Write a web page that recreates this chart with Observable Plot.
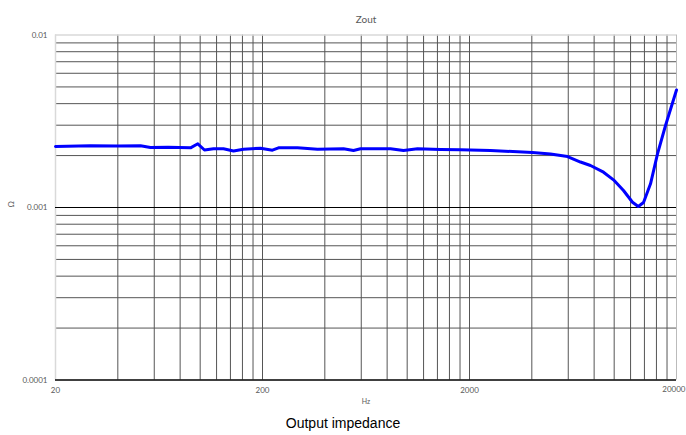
<!DOCTYPE html>
<html><head><meta charset="utf-8">
<script src="https://cdn.jsdelivr.net/npm/d3@7"></script>
<script src="https://cdn.jsdelivr.net/npm/@observablehq/plot@0.6"></script>
<style>
body{margin:0;background:#fff;}
#cap{width:686px;text-align:center;font-family:"Liberation Sans",Arial,sans-serif;font-size:14px;line-height:26px;color:#000;}
</style>
</head><body>
<div id="chart"></div>
<div id="cap">Output impedance</div>
<script>
const freq = [20, 29.5, 40, 51.5, 57.5, 70, 89.8, 97.4, 104.9, 116, 129.6, 144.9, 161.9, 195.6, 223.4, 238.9, 295.2, 368.7, 492.4, 550.5, 594.9, 830.7, 959.9, 1122, 1449, 1809, 2526, 4031, 4924, 5951, 6875, 7682, 8880, 9924, 11090, 12260, 13070, 13860, 14980, 16190, 17700, 20000];
const zout = [0.002258, 0.002279, 0.002275, 0.00228, 0.002228, 0.002235, 0.002218, 0.00234, 0.002154, 0.002189, 0.002189, 0.002126, 0.002178, 0.002207, 0.002149, 0.002218, 0.002218, 0.002178, 0.002189, 0.00214, 0.002189, 0.002189, 0.00214, 0.002189, 0.002169, 0.00216, 0.00214, 0.002084, 0.002042, 0.001975, 0.001835, 0.001752, 0.001602, 0.001447, 0.001255, 0.001073, 0.001013, 0.001069, 0.001372, 0.002048, 0.002988, 0.0048];
const xTicks = [20, 200, 2000];
const xLastTick = [20000];
const xGrid = [40, 60, 80, 100, 120, 140, 160, 180, 200, 400, 600, 800, 1000, 1200, 1400, 1600, 1800, 2000, 4000, 6000, 8000, 10000, 12000, 14000, 16000, 18000];
const yTicks = [0.0001, 0.001, 0.01];
const yGrid = [0.0002, 0.0003, 0.0004, 0.0005, 0.0006, 0.0007, 0.0008, 0.0009, 0.002, 0.003, 0.004, 0.005, 0.006, 0.007, 0.008, 0.009];
const titleText = "Zout";
const xLabel = "Hz";
const yLabel = "Ω";

const data = freq.map((f, i) => ({f, z: zout[i]}));
const font = "Lato, 'Open Sans', sans-serif";

const chart = Plot.plot({
  width: 686,
  height: 410,
  marginTop: 34.5,
  marginLeft: 55,
  marginRight: 10,
  marginBottom: 30.5,
  style: {fontFamily: font, background: "#fff"},
  x: {type: "log", domain: [20, 20000]},
  y: {type: "log", domain: [0.0001, 0.01]},
  marks: [
    Plot.ruleX(xGrid, {stroke: "#555", strokeWidth: 1}),
    Plot.ruleY(yGrid, {stroke: "#555", strokeWidth: 1}),
    Plot.ruleX([20], {stroke: "#d9d9d9", strokeWidth: 1.5}),
    Plot.ruleX([20000], {stroke: "#bbb", strokeWidth: 1}),
    Plot.ruleY([0.01], {stroke: "#d9d9d9", strokeWidth: 1.5}),
    Plot.ruleY([0.001], {stroke: "#000", strokeWidth: 1}),
    Plot.ruleY([0.0001], {stroke: "#000", strokeWidth: 1.5}),
    Plot.axisX(xTicks, {tickSize: 0, tickPadding: 7, fontSize: 8, fill: "#595959", tickFormat: d => String(d), label: null}),
    Plot.text(xLastTick, {x: d => d, frameAnchor: "bottom", dy: 11.5, dx: 9, textAnchor: "end", fontSize: 8, fill: "#595959", text: d => String(d), fontFamily: font}),
    Plot.axisY(yTicks, {tickSize: 0, tickPadding: 8, fontSize: 8, fill: "#595959", tickFormat: d => String(d), label: null}),
    Plot.line(data, {x: "f", y: "z", stroke: "#0000ff", strokeWidth: 3, strokeLinejoin: "round", strokeLinecap: "round"}),
    Plot.text([titleText], {frameAnchor: "top", dy: -19.5, fontSize: 10, fill: "#595959", fontFamily: font}),
    Plot.text([xLabel], {frameAnchor: "bottom", dy: 23.5, fontSize: 7, fill: "#595959", fontFamily: font}),
    Plot.text([yLabel], {frameAnchor: "left", dx: -44, rotate: -90, fontSize: 8, fill: "#595959", fontFamily: font})
  ]
});
document.getElementById("chart").appendChild(chart);
</script>
</body></html>
